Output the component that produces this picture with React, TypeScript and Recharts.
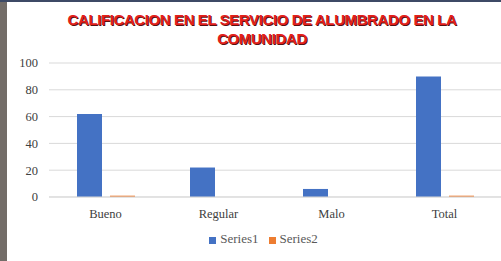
import React from "react";
import {
  BarChart,
  Bar,
  XAxis,
  YAxis,
  CartesianGrid,
  Legend,
} from "recharts";

const categories = ["Bueno", "Regular", "Malo", "Total"];
const series1 = [62, 22, 6, 90];
const series2 = [1, 0, 0, 1];
const yTicks = [0, 20, 40, 60, 80, 100];

const data = categories.map((name, i) => ({
  name,
  Series1: series1[i],
  Series2: series2[i],
}));

const tickFont = {
  fontFamily: "'Liberation Serif', serif",
  fontSize: 12.5,
  fill: "#404040",
};

export default function App() {
  return (
    <div
      style={{
        position: "absolute",
        left: 0,
        top: 0,
        width: 501,
        height: 261,
        background: "#ffffff",
        overflow: "hidden",
      }}
    >
      <div
        style={{
          position: "absolute",
          left: 0,
          top: 0,
          width: 7,
          height: 261,
          background: "#736d68",
        }}
      />
      <div
        style={{
          position: "absolute",
          left: 0,
          top: 0,
          width: 501,
          height: 2,
          background: "#3d4a66",
        }}
      />
      <div
        style={{
          position: "absolute",
          left: 15,
          top: 10,
          width: 494,
          textAlign: "center",
          fontFamily: "'Liberation Sans Narrow', 'Liberation Sans', sans-serif",
          fontWeight: "bold",
          fontSize: 15,
          lineHeight: "19px",
          letterSpacing: -0.4,
          color: "#e3201b",
          textShadow: "1px 1px 0 #5a1010",
        }}
      >
        CALIFICACION EN EL SERVICIO DE ALUMBRADO EN LA
        <br />
        COMUNIDAD
      </div>
      <BarChart
        width={501}
        height={261}
        data={data}
        margin={{ top: 63, right: 0, left: 0, bottom: 18 }}
        barGap={8}
        style={{ position: "absolute", left: 0, top: 0 }}
      >
        <CartesianGrid vertical={false} stroke="#d9d9d9" />
        <XAxis
          dataKey="name"
          tickLine={false}
          axisLine={{ stroke: "#d9d9d9" }}
          tick={tickFont}
          tickMargin={6}
          height={30}
        />
        <YAxis
          width={49}
          domain={[0, 100]}
          ticks={yTicks}
          tickLine={false}
          axisLine={false}
          tick={tickFont}
          tickMargin={5}
        />
        <Legend
          iconType="square"
          iconSize={7}
          wrapperStyle={{
            position: "absolute",
            top: 231,
            left: 18,
            width: 501,
            fontFamily: "'Liberation Serif', serif",
            fontSize: 13,
            color: "#595959",
          }}
          formatter={(v: string) => <span style={{ color: "#595959" }}>{v}</span>}
        />
        <Bar dataKey="Series1" fill="#4472c4" barSize={25} isAnimationActive={false} />
        <Bar dataKey="Series2" fill="#ed7d31" barSize={25} isAnimationActive={false} />
      </BarChart>
    </div>
  );
}
